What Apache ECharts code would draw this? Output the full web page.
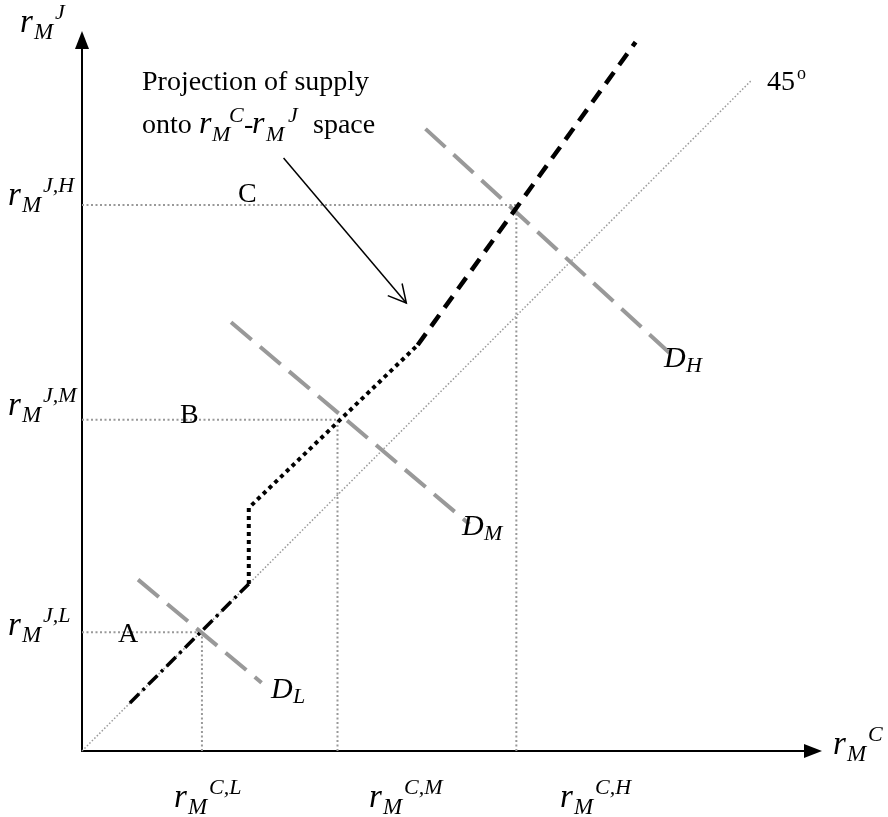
<!DOCTYPE html>
<html>
<head>
<meta charset="utf-8">
<script src="https://cdn.jsdelivr.net/npm/echarts/dist/echarts.min.js"></script>
<style>
  html, body { margin: 0; padding: 0; background: #fff; }
  #chart { width: 888px; height: 817px; }
</style>
</head>
<body>
<div id="chart"></div>
<script>
// values, in axis units (y axis runs 0..100)
var levels = ["L", "M", "H"];
var rC = [16.9, 36.0, 61.2];        // r_M^{C,L}, r_M^{C,M}, r_M^{C,H}
var rJ = [16.7, 46.6, 76.8];        // r_M^{J,L}, r_M^{J,M}, r_M^{J,H}
var diag45 = [[0, 0], [94.4, 94.4]];
// supply projection, three pieces
var supplyDashDot = [[6.75, 6.75], [23.5, 23.5]];
var supplyDotted = [[23.5, 23.5], [23.5, 34.2], [47.3, 57.1]];
var supplyDashed = [[47.3, 57.1], [78.0, 99.7]];
// demand lines
var demandL = [[7.9, 24.1], [25.3, 9.6]];
var demandM = [[21.0, 60.3], [54.6, 31.9]];
var demandH = [[48.4, 87.5], [83.1, 55.7]];
// annotation arrow
var arrowFrom = [28.4, 83.4];
var arrowTo = [45.7, 63.0];

var FONT = '"Liberation Serif", "Times New Roman", serif';
var GRAY = "#999";

function seg(data, color, width, type, z) {
  return {
    type: "line",
    data: data,
    symbol: "none",
    silent: true,
    animation: false,
    z: z || 2,
    lineStyle: { color: color, width: width, type: type, cap: "butt", join: "miter" }
  };
}

// guide lines to the axes
var series = [];
for (var i = 0; i < levels.length; i++) {
  series.push(seg([[0, rJ[i]], [rC[i], rJ[i]]], GRAY, 2, [2, 2.5], 1));
  series.push(seg([[rC[i], 0], [rC[i], rJ[i]]], GRAY, 2, [2, 2.5], 1));
}
series.push(seg(diag45, GRAY, 1.5, [1.5, 2], 1));
series.push(seg(demandL, GRAY, 4, [27, 11], 2));
series.push(seg(demandM, GRAY, 4, [27, 11], 2));
series.push(seg(demandH, GRAY, 4, [27, 11], 2));
series.push(seg(supplyDashDot, "#000", 3.5, [13, 5, 3, 5], 3));
series.push(seg(supplyDotted, "#000", 4, [4, 4], 3));
series.push(seg(supplyDashed, "#000", 4.5, [14, 9], 3));
series.push(seg([arrowFrom, arrowTo], "#000", 1.5, "solid", 3));
// open arrow head
series.push({
  type: "custom",
  silent: true,
  animation: false,
  z: 3,
  data: [arrowTo],
  renderItem: function (params, api) {
    var p0 = api.coord(arrowFrom);
    var p1 = api.coord(arrowTo);
    var a = Math.atan2(p1[1] - p0[1], p1[0] - p0[0]);
    var L = 20, w = 28 * Math.PI / 180;
    return {
      type: "polyline",
      shape: {
        points: [
          [p1[0] - L * Math.cos(a - w), p1[1] - L * Math.sin(a - w)],
          p1,
          [p1[0] - L * Math.cos(a + w), p1[1] - L * Math.sin(a + w)]
        ]
      },
      style: { stroke: "#000", lineWidth: 1.5, fill: null }
    };
  }
});

// text helpers
function txt(x, base, s, size, italic) {
  return {
    type: "text",
    x: x,
    y: base - 0.34 * size,
    z: 10,
    style: {
      text: s,
      font: (italic ? "italic " : "") + size + "px " + FONT,
      fill: "#000",
      align: "left",
      verticalAlign: "middle"
    }
  };
}
// r_M^{sup}
function rsym(x, base, sup) {
  return [
    txt(x, base, "r", 33, true),
    txt(x + 14, base + 6, "M", 23, true),
    txt(x + 35, base - 14, sup, 22, true)
  ];
}
function dsym(x, base, sub) {
  return [txt(x, base, "D", 30, true), txt(x + 22, base + 5, sub, 22, true)];
}

var texts = [];
texts = texts.concat(rsym(20, 35, "J"));
texts = texts.concat(rsym(8, 208, "J,H"));
texts = texts.concat(rsym(8, 418, "J,M"));
texts = texts.concat(rsym(8, 638, "J,L"));
texts = texts.concat(rsym(174, 810, "C,L"));
texts = texts.concat(rsym(369, 810, "C,M"));
texts = texts.concat(rsym(560, 810, "C,H"));
texts = texts.concat(rsym(833, 757, "C"));
texts.push(txt(118, 644, "A", 28, false));
texts.push(txt(180, 425, "B", 28, false));
texts.push(txt(238, 204, "C", 28, false));
texts = texts.concat(dsym(271, 700, "L"));
texts = texts.concat(dsym(462, 537, "M"));
texts = texts.concat(dsym(664, 369, "H"));
texts.push(txt(767, 92, "45", 28, false));
texts.push(txt(797, 80, "o", 18, false));
texts.push(txt(142, 92, "Projection of supply", 28, false));
texts.push(txt(142, 135, "onto", 28, false));
texts.push(txt(199, 135, "r", 32, true));
texts.push(txt(212, 143, "M", 22, true));
texts.push(txt(229, 124, "C", 22, true));
texts.push(txt(244, 135, "-", 28, false));
texts.push(txt(252, 135, "r", 32, true));
texts.push(txt(266, 143, "M", 22, true));
texts.push(txt(288, 124, "J", 22, true));
texts.push(txt(313, 135, "space", 28, false));

var axisCommon = {
  type: "value",
  min: 0,
  axisTick: { show: false },
  axisLabel: { show: false },
  splitLine: { show: false },
  axisLine: {
    show: true,
    symbol: ["none", "triangle"],
    symbolSize: [14, 18],
    lineStyle: { color: "#000", width: 2 }
  }
};

var myChart = echarts.init(document.getElementById("chart"));
var option = {
  backgroundColor: "#fff",
  animation: false,
  grid: { left: 82, top: 40, right: 75, bottom: 66, containLabel: false },
  xAxis: Object.assign({}, axisCommon, { max: 103 }),
  yAxis: Object.assign({}, axisCommon, { max: 100 }),
  series: series,
  graphic: texts
};
myChart.setOption(option);
</script>
</body>
</html>
